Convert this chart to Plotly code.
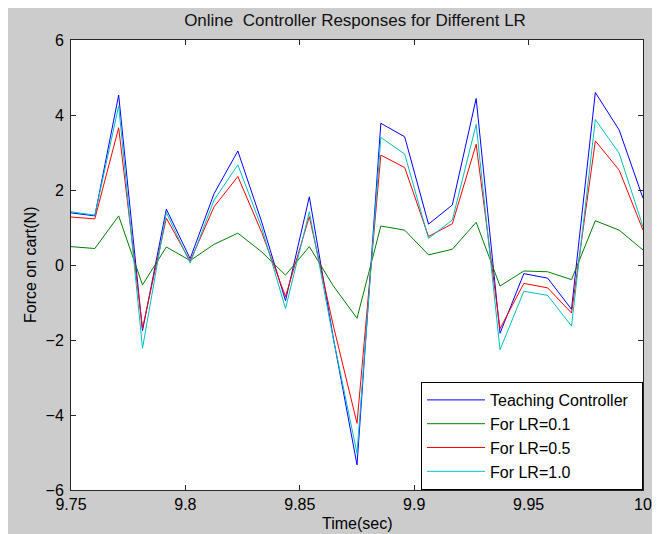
import plotly.graph_objects as go

time_sec = [9.75, 9.76042, 9.77083, 9.78125, 9.79167, 9.80208, 9.8125, 9.82292,
            9.83333, 9.84375, 9.85417, 9.86458, 9.875, 9.88542, 9.89583, 9.90625,
            9.91667, 9.92708, 9.9375, 9.94792, 9.95833, 9.96875, 9.97917, 9.98958, 10.0]

teaching = [1.39, 1.31, 4.53, -1.75, 1.49, 0.17, 1.9, 3.04, 1.15, -0.95, 1.82, -1.92,
            -5.33, 3.78, 3.42, 1.09, 1.6, 4.44, -1.82, -0.23, -0.35, -1.18, 4.6, 3.6, 1.78]
lr_01 = [0.49, 0.44, 1.31, -0.53, 0.48, 0.12, 0.55, 0.85, 0.35, -0.27, 0.49, -0.55,
         -1.42, 1.04, 0.93, 0.27, 0.42, 1.14, -0.56, -0.16, -0.18, -0.39, 1.18, 0.93, 0.4]
lr_05 = [1.28, 1.23, 3.66, -1.69, 1.25, 0.1, 1.55, 2.36, 0.87, -0.84, 1.29, -1.6,
         -4.22, 2.93, 2.6, 0.76, 1.1, 3.22, -1.7, -0.49, -0.61, -1.28, 3.31, 2.53, 0.93]
lr_10 = [1.42, 1.33, 4.24, -2.22, 1.4, 0.05, 1.73, 2.67, 1.0, -1.16, 1.42, -1.95,
         -5.02, 3.4, 2.96, 0.71, 1.2, 3.75, -2.26, -0.7, -0.81, -1.63, 3.88, 2.98, 1.02]

series_names = ["Teaching Controller", "For LR=0.1", "For LR=0.5", "For LR=1.0"]
series_values = [teaching, lr_01, lr_05, lr_10]
series_colors = ["#0000ff", "#008000", "#ff0000", "#00bfbf"]

x_ticks = [9.75, 9.8, 9.85, 9.9, 9.95, 10]
x_tick_labels = ["9.75", "9.8", "9.85", "9.9", "9.95", "10"]
y_ticks = [-6, -4, -2, 0, 2, 4, 6]

FONT = "Liberation Sans, Arial, sans-serif"

fig = go.Figure()
for name, vals, col in zip(series_names, series_values, series_colors):
    fig.add_trace(go.Scatter(x=time_sec, y=vals, mode="lines",
                             name=name + "\u00a0\u00a0",
                             line=dict(color=col, width=1)))

# the page body adds an 8px offset; coordinates below are figure coordinates
W, H = 660, 534
ml, mr, mt, mb = 63, 25, 32, 52
pw = W - ml - mr
ph = H - mt - mb

axis_common = dict(showline=True, linecolor="#262626", linewidth=1, mirror="ticks",
                   ticks="inside", ticklen=5, tickcolor="#262626", showgrid=False,
                   zeroline=False, tickfont=dict(family=FONT, size=16, color="#000000"))

fig.update_layout(
    width=W, height=H,
    margin=dict(l=ml, r=mr, t=mt, b=mb, pad=0),
    paper_bgcolor="#cccccc", plot_bgcolor="#ffffff",
    font=dict(family=FONT, size=16, color="#000000"),
    title=dict(text="Online  Controller Responses for Different LR",
               x=347 / W, xanchor="center", xref="container",
               y=1 - 12 / H, yanchor="middle", yref="container",
               font=dict(family=FONT, size=17, color="#111111")),
    xaxis=dict(range=[9.75, 10], tickvals=x_ticks, ticktext=x_tick_labels,
               ticklabelstandoff=0, **axis_common),
    yaxis=dict(range=[-6, 6], tickvals=y_ticks, ticklabelstandoff=3, **axis_common),
    legend=dict(x=1, y=0, xanchor="right", yanchor="bottom", bgcolor="#ffffff",
                bordercolor="#000000", borderwidth=1, itemwidth=58,
                font=dict(family=FONT, size=16, color="#000000"),
                tracegroupgap=0),
    showlegend=True,
)

fig.add_annotation(text="Force on cart(N)", xref="paper", yref="paper",
                   x=(22 - ml) / pw, y=0.5, textangle=-90, showarrow=False,
                   xanchor="center", yanchor="middle",
                   font=dict(family=FONT, size=16, color="#000000"))
fig.add_annotation(text="Time(sec)", xref="paper", yref="paper",
                   x=0.5, y=-(515 - (mt + ph)) / ph, showarrow=False,
                   xanchor="center", yanchor="middle",
                   font=dict(family=FONT, size=16, color="#000000"))

fig.write_html("out.html")
